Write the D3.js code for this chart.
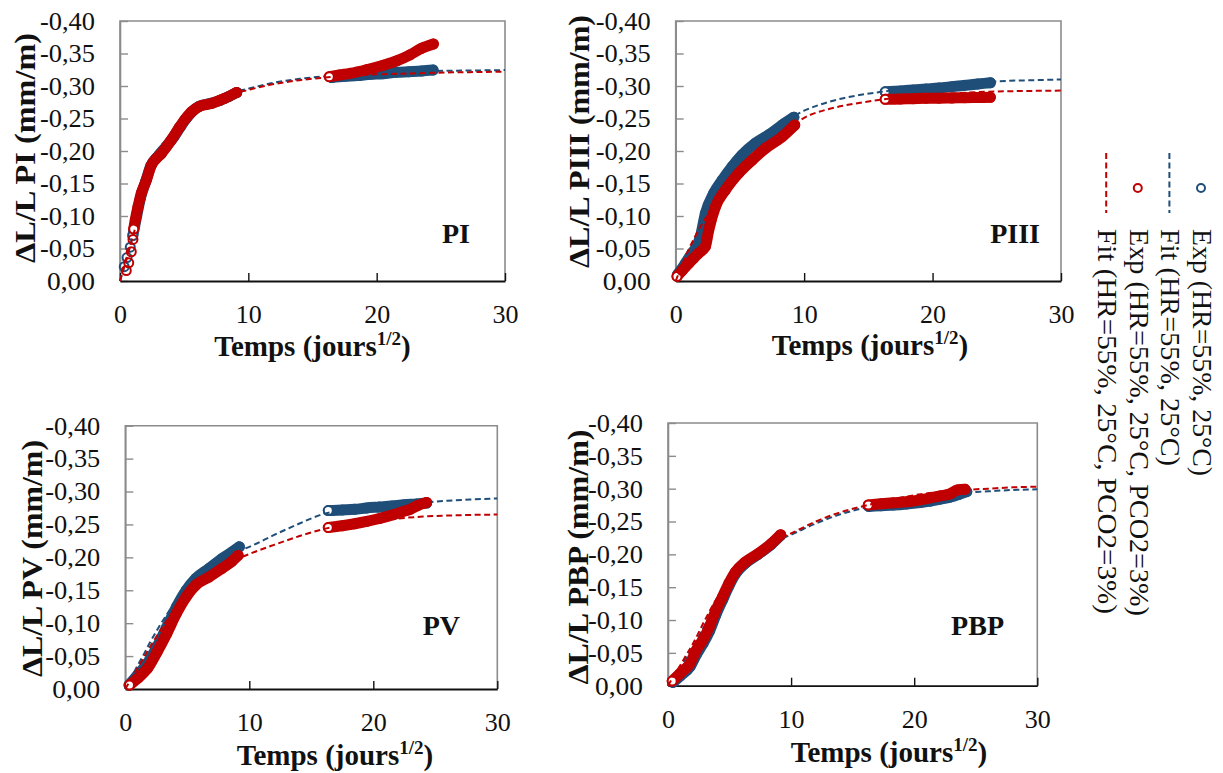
<!DOCTYPE html>
<html><head><meta charset="utf-8">
<script src="https://cdn.jsdelivr.net/npm/d3@7"></script>
<style>
body{margin:0;background:#fff}
svg{display:block}
text{font-family:"Liberation Serif","Times New Roman",serif;fill:#111}
</style>
</head><body>
<svg id="c" width="1223" height="773"></svg>
<script>
// ---------------- DATA ----------------
const xTicks = [0, 10, 20, 30];
const yTicks = [0, -0.05, -0.10, -0.15, -0.20, -0.25, -0.30, -0.35, -0.40];
const panelNames = ["PI", "PIII", "PV", "PBP"];
const legendLabels = ["Exp (HR=55%, 25°C)", "Fit (HR=55%, 25°C)",
  "Exp (HR=55%, 25°C, PCO2=3%)", "Fit (HR=55%, 25°C, PCO2=3%)"];

// fit curves: common abscissae (sqrt days) and values per panel
const fitT = [0, 0.5, 1, 1.5, 2, 3, 4, 5, 6, 7, 8, 9, 10, 12, 14, 16, 18, 20, 22, 24, 26, 28, 30];
const piFitBlue   = [0,-0.035,-0.070,-0.110,-0.145,-0.190,-0.220,-0.245,-0.262,-0.275,-0.284,-0.291,-0.296,-0.305,-0.311,-0.315,-0.318,-0.320,-0.322,-0.323,-0.3235,-0.324,-0.3245];
const piFitRed    = [0,-0.033,-0.068,-0.105,-0.140,-0.187,-0.218,-0.243,-0.260,-0.273,-0.282,-0.289,-0.294,-0.303,-0.309,-0.313,-0.316,-0.318,-0.319,-0.320,-0.321,-0.3215,-0.322];
const piiiFitBlue = [0,-0.018,-0.036,-0.054,-0.074,-0.120,-0.158,-0.188,-0.210,-0.227,-0.241,-0.252,-0.262,-0.276,-0.285,-0.291,-0.296,-0.300,-0.303,-0.306,-0.308,-0.309,-0.310];
const piiiFitRed  = [0,-0.025,-0.048,-0.068,-0.086,-0.118,-0.147,-0.172,-0.192,-0.209,-0.224,-0.238,-0.251,-0.265,-0.273,-0.279,-0.284,-0.287,-0.289,-0.291,-0.292,-0.2925,-0.293];
const pvFitBlue   = [0,-0.018,-0.036,-0.053,-0.071,-0.103,-0.131,-0.154,-0.172,-0.187,-0.199,-0.209,-0.216,-0.234,-0.251,-0.266,-0.272,-0.277,-0.280,-0.283,-0.286,-0.288,-0.2895];
const pvFitRed    = [0,-0.016,-0.032,-0.048,-0.064,-0.094,-0.121,-0.143,-0.160,-0.174,-0.186,-0.197,-0.205,-0.219,-0.232,-0.243,-0.250,-0.255,-0.259,-0.262,-0.2635,-0.2645,-0.265];
const pbpFitBlue  = [0,-0.014,-0.028,-0.043,-0.058,-0.093,-0.127,-0.155,-0.178,-0.196,-0.211,-0.222,-0.230,-0.247,-0.261,-0.271,-0.279,-0.285,-0.290,-0.294,-0.296,-0.298,-0.299];
const pbpFitRed   = [0,-0.016,-0.031,-0.047,-0.063,-0.100,-0.134,-0.160,-0.182,-0.199,-0.213,-0.224,-0.232,-0.250,-0.264,-0.274,-0.283,-0.290,-0.295,-0.298,-0.300,-0.302,-0.303];

// experimental series: list of runs of [sqrt(days), dL/L]
const piExpBlue = [
  [[0.33,-0.022]], [[0.55,-0.036]], [[0.80,-0.052]],
  [[1.0,-0.070],[1.3,-0.100],[1.6,-0.128],[2.0,-0.153],[2.4,-0.177],[3.0,-0.193],[3.6,-0.207],[4.2,-0.222],[4.7,-0.237],[5.2,-0.251],[5.7,-0.262],[6.2,-0.269],[7.0,-0.273],[7.8,-0.278],[8.5,-0.284],[9.1,-0.290]],
  [[16.5,-0.313],[17.5,-0.315],[18.5,-0.316],[19.5,-0.318],[20.5,-0.319],[21.5,-0.321],[22.5,-0.322],[23.5,-0.323],[24.4,-0.3245]]
];
const piExpRed = [
  [[0.49,-0.016]], [[0.68,-0.028]], [[0.88,-0.045]], [[1.01,-0.064]],
  [[1.07,-0.080],[1.19,-0.094],[1.40,-0.114],[1.66,-0.135],[2.05,-0.155],[2.44,-0.178],[2.8,-0.188],[3.22,-0.196],[3.6,-0.206],[4.0,-0.217],[4.65,-0.237],[5.04,-0.248],[5.56,-0.260],[6.21,-0.269],[7.12,-0.273],[8.16,-0.281],[9.07,-0.290]],
  [[16.31,-0.3143],[17.1,-0.317],[17.93,-0.3195],[19.2,-0.325],[20.52,-0.332],[21.6,-0.339],[22.6,-0.348],[23.5,-0.358],[24.42,-0.3646]]
];
const piiiExpBlue = [
  [[0.15,-0.010],[0.75,-0.027],[1.27,-0.043],[1.6,-0.052],[1.92,-0.068],[2.31,-0.104],[2.96,-0.135],[3.61,-0.155],[4.39,-0.176],[5.17,-0.194],[6.2,-0.212],[7.25,-0.225],[8.29,-0.240],[9.2,-0.252]],
  [[16.31,-0.291],[17.5,-0.2925],[18.5,-0.294],[19.5,-0.2955],[20.5,-0.297],[21.5,-0.299],[22.5,-0.301],[23.5,-0.303],[24.5,-0.305]]
];
const piiiExpRed = [
  [[0.1,-0.007],[0.5,-0.016],[1.01,-0.027],[1.4,-0.035],[1.79,-0.043],[2.31,-0.053],[2.57,-0.078],[3.09,-0.114],[3.87,-0.140],[4.91,-0.166],[5.95,-0.186],[6.98,-0.204],[8.29,-0.222],[9.27,-0.240]],
  [[16.31,-0.2795],[17.5,-0.280],[18.5,-0.2805],[19.5,-0.281],[20.5,-0.2812],[21.5,-0.2815],[22.5,-0.282],[23.5,-0.2823],[24.5,-0.2826]]
];
const pvExpBlue = [
  [[0.3,-0.006],[0.99,-0.021],[1.78,-0.039],[2.56,-0.064],[3.34,-0.094],[4.13,-0.125],[4.91,-0.150],[5.69,-0.168],[6.74,-0.183],[7.78,-0.198],[8.6,-0.208],[9.2,-0.216]],
  [[16.37,-0.271],[17.5,-0.272],[18.5,-0.273],[19.47,-0.275],[20.5,-0.2765],[21.5,-0.278],[22.5,-0.280],[23.5,-0.281],[24.3,-0.2825]]
];
const pvExpRed = [
  [[0.34,-0.006],[0.99,-0.016],[1.78,-0.031],[2.56,-0.056],[3.34,-0.084],[4.13,-0.115],[4.91,-0.140],[5.69,-0.158],[6.74,-0.170],[7.78,-0.183],[8.6,-0.194],[9.1,-0.203]],
  [[16.37,-0.2453],[17.5,-0.248],[18.5,-0.251],[19.47,-0.2545],[20.5,-0.259],[21.6,-0.2646],[22.3,-0.269],[22.96,-0.273],[23.6,-0.279],[24.3,-0.2834]]
];
const pbpExpBlue = [
  [[0.4,-0.005],[1.0,-0.015],[1.79,-0.029],[2.32,-0.048],[2.84,-0.064],[3.37,-0.083],[3.89,-0.108],[4.42,-0.130],[4.95,-0.152],[5.47,-0.170],[6.26,-0.186],[7.32,-0.200],[8.37,-0.215],[9.15,-0.229]],
  [[16.3,-0.273],[17.3,-0.274],[18.3,-0.275],[19.39,-0.2767],[20.5,-0.279],[21.3,-0.281],[22.1,-0.284],[22.9,-0.287],[23.6,-0.291],[24.27,-0.2955]]
];
const pbpExpRed = [
  [[0.34,-0.007],[1.0,-0.019],[1.79,-0.034],[2.32,-0.055],[2.84,-0.070],[3.37,-0.090],[3.89,-0.115],[4.42,-0.135],[4.95,-0.156],[5.47,-0.173],[6.26,-0.188],[7.32,-0.201],[8.37,-0.216],[9.15,-0.230]],
  [[16.27,-0.2752],[17.3,-0.277],[18.3,-0.2785],[19.39,-0.280],[20.5,-0.283],[21.3,-0.286],[22.1,-0.289],[22.9,-0.292],[23.5,-0.298],[24.13,-0.299]]
];

// ---------------- LAYOUT / STYLE ----------------
const BLUE = "#1F4E79", RED = "#C00000", GRID = "#8c8c8c";
const layout = [
  {l:120,   r:505,    t:21,    b:281,   ytx:35,  yty:148,   ytl:230, xtx:312.5, xty:356, lbx:470,  lby:243},
  {l:675.7, r:1061,   t:21,    b:281,   ytx:589, yty:141.5, ytl:253, xtx:870,   xty:355, lbx:1040, lby:243},
  {l:125.3, r:497.3,  t:425.7, b:689,   ytx:42,  yty:558.5, ytl:237, xtx:335,   xty:765, lbx:460,  lby:635},
  {l:668,   r:1037.3, t:423,   b:685.7, ytx:588, yty:557,   ytl:255, xtx:889,   xty:762, lbx:1004, lby:635}
];
const legendLengths = [247, 237, 387, 385];
const series = [
  {blue:piExpBlue,   red:piExpRed,   fb:piFitBlue,   fr:piFitRed},
  {blue:piiiExpBlue, red:piiiExpRed, fb:piiiFitBlue, fr:piiiFitRed},
  {blue:pvExpBlue,   red:pvExpRed,   fb:pvFitBlue,   fr:pvFitRed},
  {blue:pbpExpBlue,  red:pbpExpRed,  fb:pbpFitBlue,  fr:pbpFitRed}
];

const svg = d3.select("#c");
const fmt = v => (Math.abs(v) < 1e-9 ? "0,00" : "-" + d3.format(".2f")(Math.abs(v)).replace(".", ","));

panelNames.forEach((name, i) => {
  const L = layout[i], S = series[i];
  const x = d3.scaleLinear().domain([0, 30]).range([L.l, L.r]);
  const y = d3.scaleLinear().domain([0, -0.40]).range([L.b, L.t]);
  const g = svg.append("g");

  // frame (top/right/left gray)
  g.append("path")
    .attr("d", `M${L.l},${L.b}V${L.t}H${L.r}V${L.b}`)
    .attr("fill", "none").attr("stroke", GRID).attr("stroke-width", 1.6);

  // y axis
  const ya = g.append("g").attr("transform", `translate(${L.l},0)`)
    .call(d3.axisLeft(y).tickValues(yTicks).tickFormat(fmt).tickSize(-8).tickSizeOuter(0).tickPadding(25));
  ya.attr("font-family", null);
  ya.select(".domain").attr("stroke", GRID).attr("stroke-width", 1.6);
  ya.selectAll(".tick line").attr("stroke", GRID).attr("stroke-width", 1.4);
  ya.selectAll(".tick text").attr("font-size", 26).attr("fill", "#111").attr("textLength", 55).attr("lengthAdjust", "spacingAndGlyphs");
  ya.selectAll(".tick text").filter(d => d === 0).attr("textLength", 48);

  // x axis
  const xa = g.append("g").attr("transform", `translate(0,${L.b})`)
    .call(d3.axisBottom(x).tickValues(xTicks).tickSize(-8).tickSizeOuter(0).tickPadding(24));
  xa.attr("font-family", null);
  xa.select(".domain").attr("stroke", "#111").attr("stroke-width", 1.8);
  xa.selectAll(".tick line").attr("stroke", "#111").attr("stroke-width", 1.4);
  xa.selectAll(".tick text").attr("font-size", 26).attr("fill", "#111");

  const band = d3.line().x(d => x(d[0])).y(d => y(d[1])).curve(d3.curveMonotoneX);
  const fitLine = d3.line().x((d, k) => x(fitT[k])).y(d => y(d)).curve(d3.curveMonotoneX);

  const drawExp = (runs, color) => {
    const gg = g.append("g");
    runs.forEach(run => {
      if (run.length > 1) {
        gg.append("path").attr("d", band(run))
          .attr("fill", "none").attr("stroke", color).attr("stroke-width", 11)
          .attr("stroke-linecap", "round").attr("stroke-linejoin", "round");
      }
      gg.selectAll(null).data(run).join("circle")
        .attr("cx", d => x(d[0])).attr("cy", d => y(d[1])).attr("r", 4.5)
        .attr("fill", (d, k) => (k === 0 && run.length > 1) ? "#fff" : "none")
        .attr("stroke", color).attr("stroke-width", 2);
    });
  };
  const drawFit = (vals, color) => {
    g.append("path").attr("d", fitLine(vals))
      .attr("fill", "none").attr("stroke", color).attr("stroke-width", 2)
      .attr("stroke-dasharray", "6,3.5");
  };
  drawExp(S.blue, BLUE);
  drawFit(S.fb, BLUE);
  drawExp(S.red, RED);
  drawFit(S.fr, RED);

  // y title
  g.append("text")
    .attr("transform", `translate(${L.ytx},${L.yty}) rotate(-90)`)
    .attr("text-anchor", "middle").attr("font-weight", "bold").attr("font-size", 30)
    .attr("textLength", L.ytl).attr("lengthAdjust", "spacingAndGlyphs")
    .text(`ΔL/L ${name} (mm/m)`);

  // x title
  const xt = g.append("text").attr("x", L.xtx).attr("y", L.xty)
    .attr("text-anchor", "middle").attr("font-weight", "bold").attr("font-size", 29);
  xt.append("tspan").text("Temps (jours");
  xt.append("tspan").attr("font-size", 19).attr("dy", -11).text("1/2");
  xt.append("tspan").attr("dy", 11).text(")");

  // panel label
  g.append("text").attr("x", L.lbx).attr("y", L.lby)
    .attr("text-anchor", "end").attr("font-weight", "bold").attr("font-size", 28)
    .text(name);
});

// legend (rotated 90° clockwise)
const lg = svg.append("g").attr("transform", "translate(1201,0) rotate(90)");
const legendColors = [BLUE, BLUE, RED, RED];
legendLabels.forEach((lab, i) => {
  const ly = i * 31.6;
  if (i % 2 === 0) {
    lg.append("circle").attr("cx", 188).attr("cy", ly).attr("r", 4)
      .attr("fill", "none").attr("stroke", legendColors[i]).attr("stroke-width", 2);
  } else {
    lg.append("line").attr("x1", 153).attr("x2", 213).attr("y1", ly).attr("y2", ly)
      .attr("stroke", legendColors[i]).attr("stroke-width", 2).attr("stroke-dasharray", "6,3.5");
  }
  lg.append("text").attr("x", 229).attr("y", ly + 8).attr("font-size", 27)
    .attr("textLength", legendLengths[i]).attr("lengthAdjust", "spacingAndGlyphs")
    .text(lab);
});
</script>
</body></html>
